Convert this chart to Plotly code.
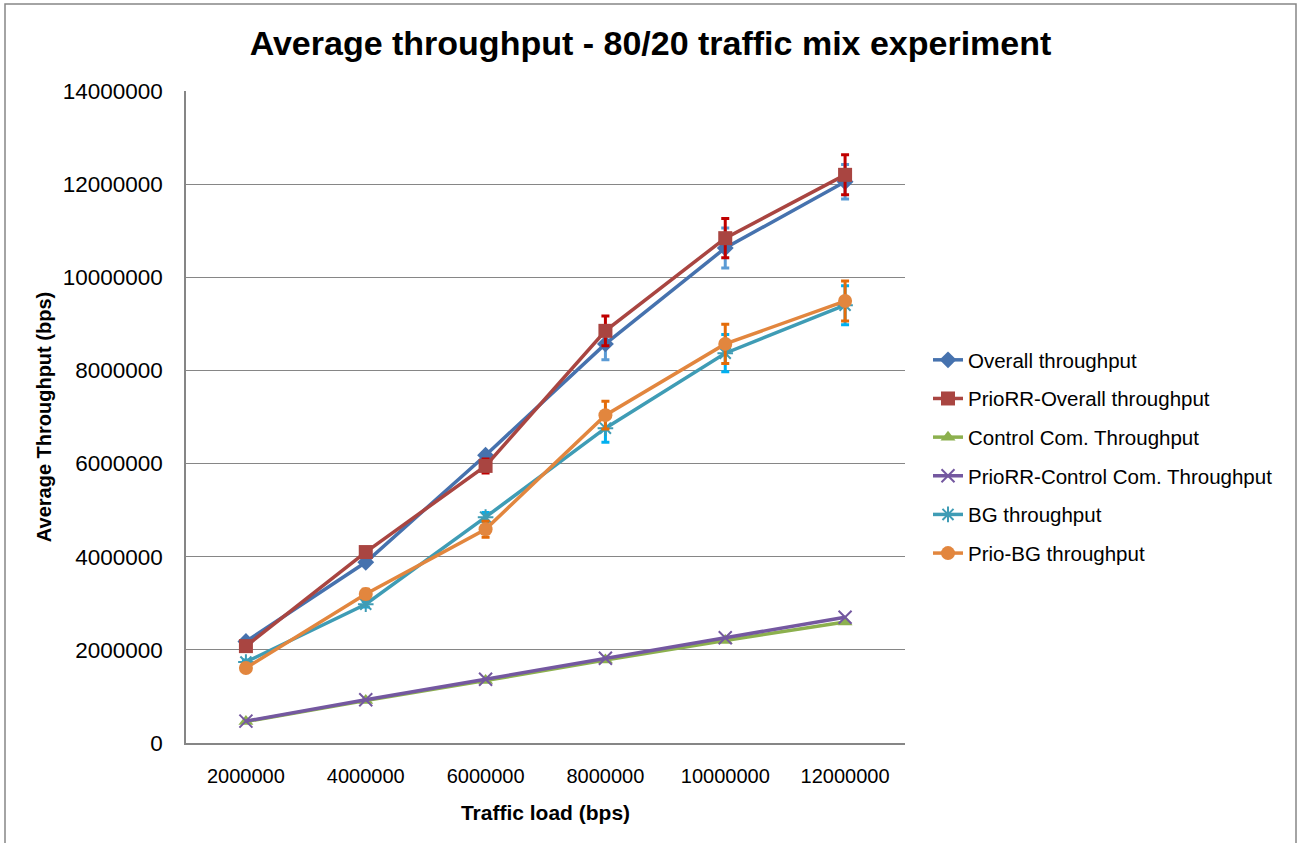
import plotly.graph_objects as go

# Offered traffic load (categories on the x axis)
loads = ["2000000", "4000000", "6000000", "8000000", "10000000", "12000000"]

# Average throughput per series (bps)
overall = [2180000, 3880000, 6180000, 8570000, 10630000, 12050000]
overall_err = [30000, 40000, 60000, 340000, 430000, 370000]

prio_overall = [2080000, 4100000, 5950000, 8850000, 10840000, 12200000]
prio_overall_err = [30000, 60000, 150000, 320000, 420000, 430000]

control = [460000, 910000, 1340000, 1780000, 2200000, 2600000]
prio_control = [470000, 930000, 1370000, 1820000, 2260000, 2700000]

bg = [1740000, 2980000, 4850000, 6760000, 8370000, 9400000]
bg_err = [40000, 60000, 100000, 300000, 400000, 420000]

prio_bg = [1610000, 3200000, 4590000, 7040000, 8570000, 9490000]
prio_bg_err = [40000, 100000, 170000, 300000, 420000, 430000]

y_ticks = list(range(0, 14000001, 2000000))

FONT = "Liberation Sans"

series = [
    dict(name="Overall throughput", y=overall, err=overall_err,
         color="#4672AE", ecolor="#5B9BD5", symbol="diamond", size=13),
    dict(name="PrioRR-Overall throughput", y=prio_overall, err=prio_overall_err,
         color="#A94541", ecolor="#C00000", symbol="square", size=14),
    dict(name="Control Com. Throughput", y=control, err=None,
         color="#8CB04E", ecolor=None, symbol="triangle-up", size=13),
    dict(name="PrioRR-Control Com. Throughput", y=prio_control, err=None,
         color="#7458A0", ecolor=None, symbol="x-thin-open", size=13),
    dict(name="BG throughput", y=bg, err=bg_err,
         color="#3F9CB5", ecolor="#00B0F0", symbol="asterisk-open", size=13),
    dict(name="Prio-BG throughput", y=prio_bg, err=prio_bg_err,
         color="#E2863E", ecolor="#E46C0A", symbol="circle", size=14),
]

fig = go.Figure()
for i, s in enumerate(series):
    marker = dict(symbol=s["symbol"], size=s["size"], color=s["color"])
    if s["symbol"].endswith("open"):
        marker["line"] = dict(color=s["color"], width=2)
    kw = {}
    if s["err"] is not None:
        kw["error_y"] = dict(type="data", array=s["err"], visible=True,
                             color=s["ecolor"], thickness=3, width=4)
    fig.add_trace(go.Scatter(
        x=loads, y=s["y"], name=s["name"], mode="lines+markers",
        line=dict(color=s["color"], width=3.5), marker=marker,
        legendgroup=f"g{i}", **kw))

W, H = 1301, 843
L, R, T, B = 186, 396, 91, 100
pw, ph = W - L - R, H - T - B

def px(x):
    return (x - L) / pw

def py(y):
    return (H - B - y) / ph

fig.update_layout(
    width=W, height=H,
    margin=dict(l=L, r=R, t=T, b=B),
    paper_bgcolor="white", plot_bgcolor="white",
    font=dict(family=FONT, color="black"),
    title=dict(text="<b>Average throughput - 80/20 traffic mix experiment</b>",
               x=0.5, xanchor="center", y=1 - 43 / H, yanchor="middle",
               font=dict(size=34, family=FONT)),
    showlegend=True,
    legend=dict(x=px(928), y=py(340), xanchor="left", yanchor="top",
                font=dict(size=20.5, family=FONT), tracegroupgap=9,
                bgcolor="rgba(0,0,0,0)", itemwidth=30),
    xaxis=dict(type="category", range=[-0.5, 5.5], showgrid=False,
               showline=True, linecolor="#868686", linewidth=1.5,
               ticks="", ticklabelstandoff=14,
               tickfont=dict(size=20, family=FONT),
               title=dict(text="<b>Traffic load (bps)</b>",
                          font=dict(size=21, family=FONT), standoff=20)),
    yaxis=dict(range=[0, 14000000], tickvals=y_ticks,
               ticktext=[str(v) for v in y_ticks],
               showgrid=True, gridcolor="#868686", gridwidth=1,
               showline=True, linecolor="#868686", linewidth=1.5,
               zeroline=False, ticks="", ticklen=0, ticklabelstandoff=17,
               tickfont=dict(size=22.5, family=FONT),
               title=dict(text="<b>Average Throughput (bps)</b>",
                          font=dict(size=20, family=FONT), standoff=6)),
    shapes=[dict(type="rect", xref="paper", yref="paper",
                 x0=px(5), x1=px(1296), y0=py(846), y1=py(4),
                 line=dict(color="#868686", width=1.5), layer="below")],
)

fig.write_html("out.html")
